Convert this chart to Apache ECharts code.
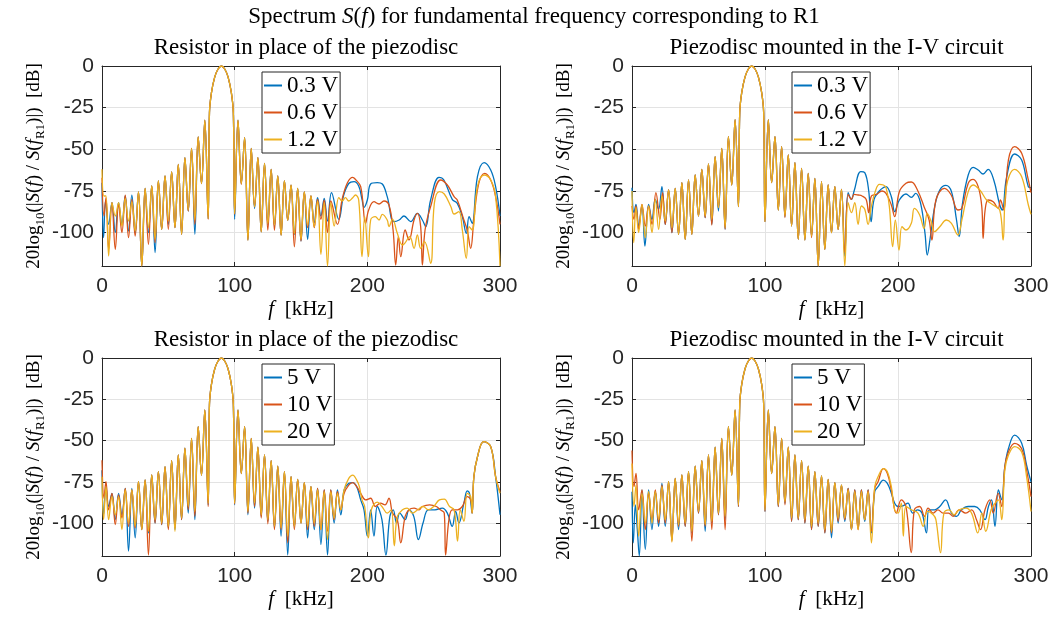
<!DOCTYPE html>
<html>
<head>
<meta charset="utf-8">
<script src="https://cdn.jsdelivr.net/npm/echarts@6/dist/echarts.min.js"></script>
<style>
html, body { margin: 0; padding: 0; background: #fff; }
#chart { width: 1058px; height: 617px; }
</style>
</head>
<body>
<div id="chart"></div>
<script>
// legend names
var namesTop = ['0.3 V', '0.6 V', '1.2 V'];
var namesBottom = ['5 V', '10 V', '20 V'];
var yTicks = [-100, -75, -50, -25, 0];

// side lobe grid shared by all four spectra (kHz)
var nullFreqL = [25, 30, 35, 40, 45, 50, 55, 60, 65, 70, 75, 80];
var peakFreqL = [27.5, 32.5, 37.5, 42.5, 47.5, 52.5, 57.5, 62.5, 67.5, 72.5, 77.5];
var nullFreqR = [100, 105, 110, 115, 120, 125, 130, 135, 140, 145, 150, 155, 160];
var peakFreqR = [102.5, 107.5, 112.5, 117.5, 122.5, 127.5, 132.5, 137.5, 142.5, 147.5, 152.5, 157.5];
// main lobe around 90 kHz
var mainLobe = [[81, -28], [82.5, -16], [85, -6.5], [87.5, -1.8], [90, 0], [92.5, -1.8], [95, -6.5], [97.5, -16], [99, -28]];

// ---- top left: resistor, 0.3 / 0.6 / 1.2 V
var peaksA_L = [-75.5, -73.5, -72, -69, -66, -63.5, -59, -55, -49.5, -42.5, -32.5];
var peaksA_R = [-32.5, -43, -49.5, -55, -58.5, -62, -66, -69, -71.5, -73.5, -75.5, -78];
var nullsA1_L = [-100, -120, -100, -112, -98, -95, -97, -101, -87, -101, -70.5, -91.5];
var nullsA2_L = [-102, -120, -107, -106, -98, -98, -97, -101, -87, -95, -70.5, -92];
var nullsA3_L = [-99, -120, -97, -104, -98, -93, -97, -101, -86.5, -92.5, -70.5, -91.5];
var nullsA1_R = [-92, -70.5, -104.5, -85.5, -99.5, -95, -96, -101.5, -92.5, -101, -105, -104, -94];
var nullsA2_R = [-89, -71, -104.5, -84.5, -99.5, -98.5, -98.5, -101.5, -92.5, -108.5, -105, -97, -97];
var nullsA3_R = [-88.5, -70.5, -104.5, -84.5, -99.5, -94.5, -95.5, -101.5, -92.5, -100.5, -104, -95.5, -96.5];
var headA1 = [[0, -70], [1.2, -103], [2.7, -81], [5, -95], [7.5, -82], [10, -100], [12.5, -82], [15, -95], [17.5, -78], [20, -99], [22.5, -77.5]];
var headA2 = [[0, -67], [1.5, -90], [3, -79], [5, -110], [7.5, -82], [10, -110], [12.5, -83], [15, -100], [17.5, -77.5], [20, -103], [22.5, -80]];
var headA3 = [[0, -62], [1.5, -78], [3, -78], [5, -114], [7.5, -82], [10, -90], [12.5, -82], [15, -96], [17.5, -79.5], [20, -93], [22.5, -81.5]];
var tailA1 = [[162.5, -79], [165, -90], [167.5, -79.5], [170, -93], [173, -76], [178.5, -92], [182, -78], [186, -70.5], [190, -69.4], [193.5, -72], [196, -80], [197.5, -84.8], [200, -80.4], [202.5, -70.8], [207.5, -70], [211.3, -70.8], [215, -78.4], [220, -93.4], [224, -92.4], [227.6, -90], [232.7, -93.4], [237.7, -88.4], [241.5, -92.4], [244, -96.4], [247.7, -80.4], [254, -66.8], [257.7, -68.4], [264, -80], [267.8, -82.4], [271.6, -90.4], [274.6, -100.4], [276.7, -90.4], [279, -94.4], [283, -66.4], [288, -58], [293, -62.4], [296.7, -72.4], [300, -90]];
var tailA2 = [[162.5, -80], [165, -92], [167.5, -80.5], [170, -100], [172.5, -81], [177.5, -95], [181, -80], [185, -70], [189, -66.8], [191, -68], [195, -72.4], [198.7, -94.4], [201, -86.4], [205, -81.4], [208.8, -82.8], [212.5, -81], [216.3, -83.4], [219.4, -98.4], [221.4, -119.4], [223.4, -102.4], [225.2, -114.4], [228.5, -98.4], [231.4, -104.4], [235.2, -92.4], [237.7, -88.4], [240.2, -96.4], [241.5, -119.4], [243.5, -98.4], [247.7, -84.4], [255.3, -68.4], [260.3, -71.4], [265.4, -78.4], [267.8, -80.4], [272.8, -92.4], [275.3, -98.4], [277.9, -109.4], [280.3, -92.4], [284, -70.4], [288.5, -64.4], [293, -68.4], [296.7, -78.4], [300, -95]];
var tailA3 = [[162.5, -81], [165, -113], [167.5, -82], [170, -120], [172.5, -82], [175, -96], [178.5, -79], [181, -81], [183.5, -79], [186, -81], [189, -79], [191, -77.4], [193.5, -80.4], [196, -114.4], [198, -90.4], [200.8, -114.4], [202.5, -92.4], [206, -90.4], [208.8, -92.4], [211.3, -89], [215, -92.4], [216.3, -96.4], [219, -92], [222.6, -100.4], [226.5, -107.4], [228.2, -106.4], [232, -102.4], [235.2, -109.4], [237.7, -101.4], [240.2, -109.4], [243.1, -105.4], [247.7, -118.4], [250.5, -82.4], [254.3, -75.4], [258, -76.8], [263, -84.4], [265.4, -88.8], [269, -87.4], [271.6, -98.4], [274.6, -115.4], [276.7, -96.4], [279, -98.4], [283, -72.4], [288, -65.4], [293, -68.4], [296.7, -78.4], [300, -120]];

// ---- top right: piezodisc, 0.3 / 0.6 / 1.2 V
var peaksB_L = [-74.4, -73.4, -70, -68.4, -65.4, -62, -58.8, -54.4, -49.4, -42.4, -32.2];
var peaksB_R = [-32.2, -42.4, -48.4, -53.4, -58, -61.4, -64.4, -67.4, -69.4, -71.4, -72.4, -74];
var nullsB1_L = [-95, -100, -101, -104, -101, -90, -91, -95, -87, -98, -71.4, -84.4];
var nullsB2_L = [-95, -100, -101, -104, -101, -90, -91, -95.4, -85, -98, -71.4, -84.4];
var nullsB3_L = [-93, -97, -101, -104, -101, -90, -90, -92, -85, -97, -71.4, -84.4];
var nullsB1_R = [-93.4, -70, -86.4, -90.5, -96, -104, -104.4, -102, -120, -110, -100, -98, -114];
var nullsB2_R = [-93.4, -70, -86.4, -91, -96, -104, -104.4, -103, -120, -110, -100, -98, -112];
var nullsB3_R = [-93.4, -70, -86.4, -90, -96, -104, -104.4, -102, -120, -110, -100, -98, -120];
var headB1 = [[0, -73], [1.5, -88], [3, -83], [5, -96], [7.5, -84], [9.7, -108], [12.5, -83], [15, -92], [17.5, -80], [20, -86], [22.5, -72.4]];
var headB2 = [[0, -84], [1.5, -92], [3, -84], [5, -98], [7.5, -83], [10, -96], [12.5, -84], [15, -95], [18, -76], [21, -92], [23, -76]];
var headB3 = [[0, -75], [1.3, -106], [3, -85], [5, -100], [7.5, -83], [10, -103], [12.5, -84], [15, -100], [17.5, -80], [20, -98], [22.5, -78]];
var tailB1 = [[162.5, -76], [165, -80], [167, -75], [172, -63.4], [175, -64], [178, -75], [179.8, -93.4], [182, -80], [186, -75], [189, -73], [191, -72.4], [195, -78.4], [197.5, -87.4], [201, -80.4], [206, -76.8], [210, -78.8], [213.3, -76.4], [217, -82.4], [220.3, -100.4], [222, -113.4], [224, -104.4], [227.6, -84.4], [231.4, -74.4], [236, -71.6], [240.2, -75.4], [244, -92.4], [246, -102.4], [248.5, -82.4], [252.8, -65.4], [256.5, -60.8], [260.3, -62.4], [264, -64.8], [267.8, -62], [272, -68.4], [276.5, -83.4], [278.5, -86.4], [281.5, -67.4], [287.7, -52.8], [293, -56.4], [298, -72.4], [300, -73]];
var tailB2 = [[162.5, -77], [165, -80], [167, -77], [170, -77.4], [173, -78], [176, -80], [178, -88], [180, -78], [184, -77], [188, -75], [191, -76.4], [195, -83.4], [197.5, -90.4], [201, -75.4], [206, -70.4], [210, -69.6], [214.6, -74.4], [219.6, -84.4], [223.4, -92.4], [225.5, -104.4], [228.5, -80.4], [235, -73.4], [240, -77.4], [245, -86.4], [248, -85.4], [252.8, -70.4], [256.5, -68], [260.3, -72.4], [263, -84.4], [264, -103.4], [265.5, -86.4], [267.8, -80.4], [271.6, -81.4], [275.3, -85.4], [277, -80.4], [279.5, -86.4], [283, -56.4], [287.7, -48.4], [293, -52.4], [298, -68.4], [300, -76]];
var tailB3 = [[162.5, -82], [165, -88], [167.5, -82], [170, -95], [172.5, -84], [175, -86], [177.5, -95], [180, -84], [183, -75], [186, -71], [189, -71.4], [191, -73], [193.5, -84.4], [196, -108.4], [198, -92.4], [200.8, -110.4], [203, -96.4], [206, -98.4], [210, -94.4], [212.3, -85.4], [216.3, -89.4], [219.6, -97.4], [222, -88.4], [224.5, -92.4], [227.6, -99.4], [231.4, -96.4], [236.4, -92.4], [240.2, -94.4], [245, -101.4], [248, -92.4], [252.8, -75.4], [256.5, -71.4], [261.5, -74.4], [266.6, -80.4], [271.6, -83.4], [276.5, -86.4], [279, -104.4], [281.5, -72.4], [287.7, -62], [293, -66.4], [298, -83.4], [300, -89]];

// ---- bottom left: resistor, 5 / 10 / 20 V
var peaksC_L = [-74.9, -73.9, -70.9, -68.9, -65.9, -62.2, -58.8, -54.7, -48.7, -41.6, -31.5];
var peaksC_R = [-31.5, -41.6, -48.7, -54.1, -58.8, -62.2, -65.5, -68.9, -71.9, -73.5, -75.6, -78];
var nullsC1_L = [-109, -104, -106, -100, -101, -103, -104, -98, -94, -98, -71, -89];
var nullsC2_L = [-103, -104, -119.4, -100, -101, -104, -103, -98, -92, -96, -71, -90];
var nullsC3_L = [-102, -104, -105, -98, -100, -102, -105, -97, -90, -93, -71, -88];
var nullsC1_R = [-89, -70, -95, -91, -96, -99, -103, -108, -119.4, -102, -100, -109, -104];
var nullsC2_R = [-88.5, -70, -94, -90, -97, -100.5, -104, -104, -112, -104, -100, -104, -102];
var nullsC3_R = [-88, -70, -93, -88, -95, -98, -102, -103, -108, -102, -100, -102, -100];
var headC1 = [[0, -68], [1.2, -95], [3, -78], [5, -90], [7.5, -82], [10, -98], [12.5, -82], [15, -95], [17.5, -79], [20, -117], [22.5, -79]];
var headC2 = [[0, -62], [1.5, -85], [3, -75], [5, -92], [7.5, -82], [10, -101], [12.5, -83], [15, -97], [17.5, -79], [20, -102], [22.5, -80]];
var headC3 = [[0, -72], [1.2, -98], [3, -78], [5, -98], [7.5, -84], [10, -95], [12.5, -84], [15, -104], [17.5, -80], [20, -100], [22.5, -80]];
var tailC1 = [[162.5, -79], [165, -113], [167.5, -80], [170, -119.4], [172.5, -80], [175, -100], [177.5, -80], [180, -95], [182.5, -80], [186, -76], [189, -75.5], [192, -78], [195, -86], [197.5, -92], [200, -108], [202.5, -92], [205, -108], [207.5, -90], [211, -98], [214, -119.4], [217, -96], [219.5, -92], [222, -100], [224.5, -94], [228.5, -98], [231.4, -92], [235, -96], [238.5, -110], [242, -100], [246, -92], [251, -92], [256.5, -91], [260.3, -94], [264, -102], [266.6, -93], [269, -100], [272.8, -88], [275.3, -80.5], [277, -82], [279, -94], [280.3, -72], [283, -60], [287.7, -50.7], [293, -53.7], [296.7, -72], [300, -95]];
var tailC2 = [[162.5, -79], [165, -104], [167.5, -80], [170, -105], [172.5, -80], [175, -98], [177.5, -81], [180, -92], [182.5, -82], [186, -77], [189, -75.5], [192, -78], [195, -82], [198.7, -86], [202.5, -85], [206, -90], [209.9, -88], [213.3, -89], [216.3, -85], [219, -94], [222.6, -98], [225.2, -112], [228.5, -96], [231.4, -92], [235.2, -91], [239, -92], [241.5, -90], [247, -89], [252, -90], [255, -92], [258, -94], [259, -119.4], [261.5, -98], [264, -92], [268, -92], [271.6, -90], [275.3, -84], [277.9, -86], [279, -94], [280.3, -72], [283, -60], [287.7, -50.7], [293, -53.7], [296.7, -72], [300, -81]];
var tailC3 = [[162.5, -80], [165, -104], [167.5, -81], [170, -110], [172.5, -81], [175, -97], [177.5, -82], [180, -92], [182.5, -80], [186, -73], [189, -71], [192, -74], [194, -78], [196, -86], [198, -90], [200.8, -109], [203, -92], [207.5, -87.4], [211, -90], [215, -94], [218, -92], [220.3, -113.8], [222.6, -96], [226.5, -92], [230, -91], [234, -94], [238, -92], [242, -90], [246, -92], [250, -90], [254.3, -86], [258, -85.5], [262, -90], [265.4, -92], [268, -111], [270, -92], [272.8, -99], [275.3, -82], [277.9, -84], [279, -94], [280.3, -72], [283, -60], [287.7, -50.7], [293, -53.7], [296.7, -72], [300, -82]];

// ---- bottom right: piezodisc, 5 / 10 / 20 V
var peaksD_L = [-75, -73, -70.9, -68.9, -65.5, -62.2, -58.8, -54.1, -48.7, -41.6, -31.5];
var peaksD_R = [-31.5, -41.6, -48.7, -54.1, -58.8, -62.2, -65.5, -68.9, -71.5, -73.5, -75.5, -77];
var nullsD1_L = [-102, -110, -104, -102, -106, -94, -105, -100, -95, -98, -71, -90];
var nullsD2_L = [-100, -111, -102, -102, -111, -94, -102, -104, -95, -104, -71, -90];
var nullsD3_L = [-98, -111.5, -101, -100, -105, -93, -101, -99, -94, -96, -71, -89];
var nullsD1_R = [-93, -70, -90, -88, -99, -98, -100, -104, -102, -106, -109, -100, -99];
var nullsD2_R = [-93, -70, -90, -89, -99, -98, -100, -104, -102, -106, -106, -99, -98];
var nullsD3_R = [-92, -70, -89, -87, -97, -97, -98, -102, -100, -104, -105, -97, -97];
var headD1 = [[0, -81], [1, -112], [2.5, -89], [4, -104], [5.5, -120], [7.5, -80], [10, -116], [12.5, -80], [15, -104], [17.5, -81], [20, -102], [22.5, -76]];
var headD2 = [[0, -56], [1.5, -78], [3, -70], [5, -92], [7.5, -80], [10, -104], [12.5, -82], [15, -98], [17.5, -80], [20, -100], [22.5, -77]];
var headD3 = [[0, -64], [1.5, -90], [3, -77], [5, -108], [7.5, -82], [10, -100], [12.5, -81], [15, -100], [17.5, -81], [20, -98], [22.5, -78]];
var tailD1 = [[162.5, -79], [165, -104], [167.5, -80], [170, -103], [172.5, -80], [175, -99], [177.5, -80], [180, -106], [182.5, -81], [185, -78], [189, -74], [192, -76], [195, -82], [197.5, -88], [200, -90], [203.6, -89.6], [207.5, -88], [211, -94], [214.6, -92], [218, -94], [221.4, -106], [223.4, -92], [227.6, -92], [231.4, -90], [235.7, -86], [240.2, -94], [244, -96], [247.7, -92], [252.8, -90], [257.7, -90], [261.5, -92], [265.4, -98], [268, -90], [270.3, -86], [272.9, -102], [275.5, -80], [278, -86], [280.3, -66], [283, -55], [287.7, -46.7], [293, -51.7], [296.7, -65], [300, -75]];
var tailD2 = [[162.5, -79], [165, -104], [167.5, -80], [170, -104], [172.5, -80], [175, -98], [177.5, -80], [180, -105], [182.5, -79], [185, -75], [189, -67], [192, -70], [195, -80], [198.7, -94], [202.5, -86], [206, -90], [210, -118], [212.3, -92], [216.3, -90], [220, -96], [222.6, -91], [226.5, -94], [230, -92], [234, -94], [238, -94], [241.5, -96], [246, -92], [251, -94], [255.3, -92], [259, -98], [262, -104], [265.4, -92], [269, -86], [271.6, -94], [275.3, -82], [278, -90], [280.3, -66], [283, -57], [287.7, -51.7], [293, -55], [296.7, -68], [300, -84]];
var tailD3 = [[162.5, -80], [165, -104], [167.5, -81], [170, -104], [172.5, -81], [175, -98], [177.5, -81], [180, -112], [182.5, -78], [185, -72], [189, -67], [192, -69], [195, -78], [197.5, -92], [200, -94], [202.5, -88], [204, -108], [206, -90], [210, -92], [215, -94], [219, -102], [222, -93], [226.5, -95], [228.5, -98], [232, -118], [234.5, -94], [238.5, -92], [242, -95], [246, -92], [251, -91], [255.3, -94], [260, -106], [263, -94], [266, -105], [270, -92], [273, -88], [275.5, -86], [278, -98], [280.3, -68], [283, -59], [287.7, -53.7], [293, -57], [296.7, -72], [300, -93]];

var colors = ['#0072BD', '#D95319', '#EDB120'];
var serif = 'Liberation Serif';
var sans = 'Liberation Sans';

// joins head, side lobes, main lobe and tail into one curve
function curve(head, peaksL, nullsL, peaksR, nullsR, tail) {
	var pts = head.slice();
	nullFreqL.forEach(function (f, i) {
		pts.push([f, nullsL[i]]);
		if (i < peakFreqL.length) pts.push([peakFreqL[i], peaksL[i]]);
	});
	pts = pts.concat(mainLobe);
	nullFreqR.forEach(function (f, i) {
		pts.push([f, nullsR[i]]);
		if (i < peakFreqR.length) pts.push([peakFreqR[i], peaksR[i]]);
	});
	return pts.concat(tail);
}

var panels = [
	{ title: 'Resistor in place of the piezodisc', names: namesTop, grid: { left: 102, top: 66, width: 398, height: 200 },
	  data: [
		curve(headA1, peaksA_L, nullsA1_L, peaksA_R, nullsA1_R, tailA1),
		curve(headA2, peaksA_L, nullsA2_L, peaksA_R, nullsA2_R, tailA2),
		curve(headA3, peaksA_L, nullsA3_L, peaksA_R, nullsA3_R, tailA3)] },
	{ title: 'Piezodisc mounted in the I-V circuit', names: namesTop, grid: { left: 632, top: 66, width: 399, height: 200 },
	  data: [
		curve(headB1, peaksB_L, nullsB1_L, peaksB_R, nullsB1_R, tailB1),
		curve(headB2, peaksB_L, nullsB2_L, peaksB_R, nullsB2_R, tailB2),
		curve(headB3, peaksB_L, nullsB3_L, peaksB_R, nullsB3_R, tailB3)] },
	{ title: 'Resistor in place of the piezodisc', names: namesBottom, grid: { left: 102, top: 358, width: 398, height: 198 },
	  data: [
		curve(headC1, peaksC_L, nullsC1_L, peaksC_R, nullsC1_R, tailC1),
		curve(headC2, peaksC_L, nullsC2_L, peaksC_R, nullsC2_R, tailC2),
		curve(headC3, peaksC_L, nullsC3_L, peaksC_R, nullsC3_R, tailC3)] },
	{ title: 'Piezodisc mounted in the I-V circuit', names: namesBottom, grid: { left: 632, top: 358, width: 399, height: 198 },
	  data: [
		curve(headD1, peaksD_L, nullsD1_L, peaksD_R, nullsD1_R, tailD1),
		curve(headD2, peaksD_L, nullsD2_L, peaksD_R, nullsD2_R, tailD2),
		curve(headD3, peaksD_L, nullsD3_L, peaksD_R, nullsD3_R, tailD3)] }
];

var axisColor = '#262626';
var gridColor = '#e3e3e3';
var yName = '{n|20log}{s|10}{n|(|}{i|S}{n|(}{i|f}{n|) / }{i|S}{n|(}{i|f}{s|R1}{n|)|)  [dB]}';
var mathRich = {
	n: { fontFamily: serif, fontSize: 19, color: '#000', lineHeight: 26 },
	i: { fontFamily: serif, fontStyle: 'italic', fontSize: 19, color: '#000', lineHeight: 26 },
	s: { fontFamily: serif, fontSize: 13, color: '#000', lineHeight: 15, verticalAlign: 'bottom' }
};

var option = {
	animation: false,
	backgroundColor: '#fff',
	title: [{
		text: 'Spectrum {i|S}({i|f}) for fundamental frequency corresponding to R1',
		left: 529, top: 0, textAlign: 'center',
		textStyle: { fontFamily: serif, fontSize: 23, fontWeight: 'normal', color: '#000',
			rich: { i: { fontFamily: serif, fontStyle: 'italic', fontSize: 23, color: '#000' } } }
	}],
	legend: [],
	grid: [],
	xAxis: [],
	yAxis: [],
	series: []
};

panels.forEach(function (p, k) {
	var g = p.grid;
	option.grid.push(g);
	option.title.push({
		text: p.title, left: g.left + g.width / 2, top: g.top - 35, textAlign: 'center',
		textStyle: { fontFamily: serif, fontSize: 23, fontWeight: 'normal', color: '#000' }
	});
	option.legend.push({
		data: p.names,
		orient: 'vertical',
		left: g.left + 160, top: g.top + 6,
		icon: 'rect', itemWidth: 18, itemHeight: 2, itemGap: 4,
		padding: [2, 2, 2, 2],
		borderColor: axisColor, borderWidth: 1, backgroundColor: '#fff',
		textStyle: { fontFamily: serif, fontSize: 23, color: '#000' }
	});
	var line = { show: true, onZero: false, lineStyle: { color: axisColor, width: 1 } };
	var tick = { show: true, inside: true, length: 4, lineStyle: { color: axisColor } };
	option.xAxis.push({
		gridIndex: k, type: 'value', min: 0, max: 300, interval: 100, position: 'bottom',
		name: '{i|f}  [kHz]', nameLocation: 'middle', nameGap: 33,
		nameTextStyle: { fontFamily: serif, fontSize: 21, color: '#000',
			rich: { i: { fontFamily: serif, fontStyle: 'italic', fontSize: 21, color: '#000' } } },
		axisLine: line, axisTick: tick,
		axisLabel: { margin: 10, fontFamily: sans, fontSize: 21, color: axisColor },
		splitLine: { show: true, lineStyle: { color: gridColor, width: 1 } }
	}, {
		gridIndex: k, type: 'value', min: 0, max: 300, interval: 100, position: 'top',
		axisLine: line, axisTick: tick, axisLabel: { show: false }, splitLine: { show: false }
	});
	option.yAxis.push({
		gridIndex: k, type: 'value', min: -120, max: 0, position: 'left',
		name: yName, nameLocation: 'middle', nameRotate: 90, nameGap: 55,
		nameTextStyle: { rich: mathRich },
		axisLine: line,
		axisTick: { show: true, inside: true, length: 4, lineStyle: { color: axisColor }, customValues: yTicks },
		axisLabel: { margin: 8, fontFamily: sans, fontSize: 21, color: axisColor, customValues: yTicks },
		splitLine: { show: true, lineStyle: { color: gridColor, width: 1 } }
	}, {
		gridIndex: k, type: 'value', min: -120, max: 0, position: 'right',
		axisLine: line,
		axisTick: { show: true, inside: true, length: 4, lineStyle: { color: axisColor }, customValues: yTicks },
		axisLabel: { show: false }, splitLine: { show: false }
	});
	p.data.forEach(function (d, j) {
		option.series.push({
			type: 'line',
			name: p.names[j],
			xAxisIndex: 2 * k,
			yAxisIndex: 2 * k,
			data: d,
			smooth: 0.4,
			symbol: 'none',
			clip: true,
			color: colors[j],
			lineStyle: { color: colors[j], width: 1.3 },
			z: 2 + j
		});
	});
});

var chart = echarts.init(document.getElementById('chart'));
chart.setOption(option);
</script>
</body>
</html>
